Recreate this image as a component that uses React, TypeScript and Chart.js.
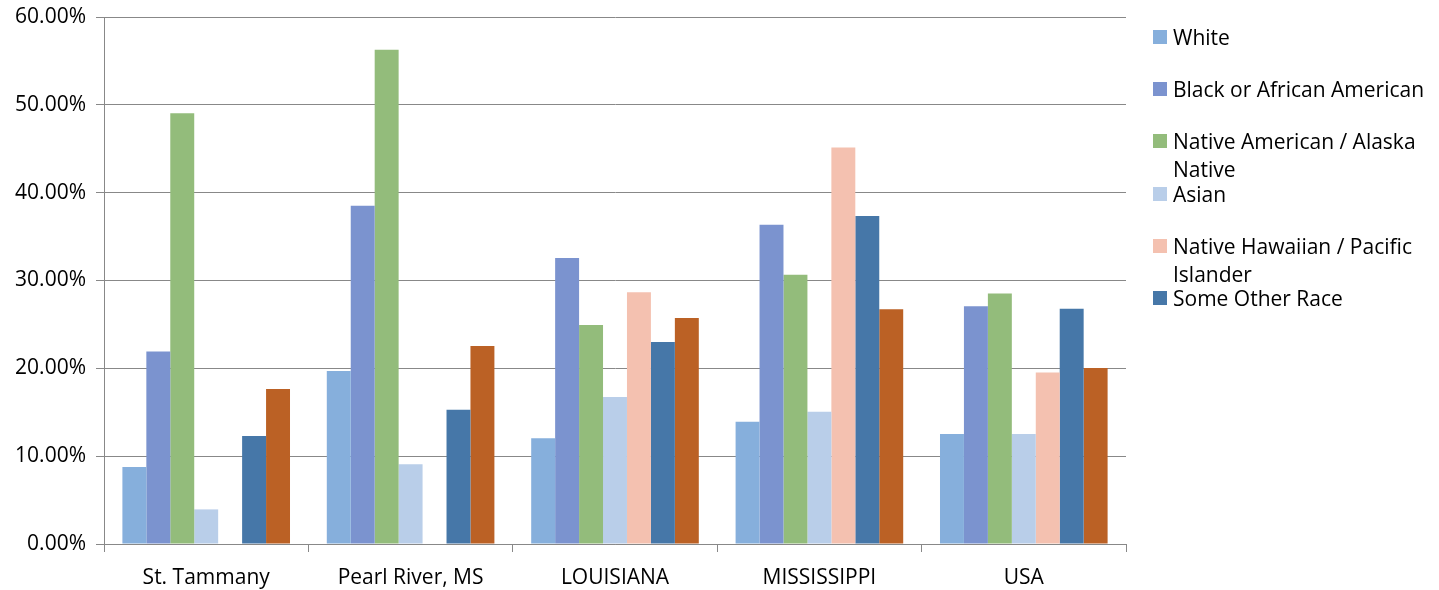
import React, { useEffect, useRef } from "react";
import { Chart, registerables } from "chart.js";

Chart.register(...registerables);

const categories = ["St. Tammany", "Pearl River, MS", "LOUISIANA", "MISSISSIPPI", "USA"];

const seriesNames = [
  "White",
  "Black or African American",
  "Native American / Alaska Native",
  "Asian",
  "Native Hawaiian / Pacific Islander",
  "Some Other Race",
  "Two or More Races",
];

const white = [8.78, 19.7, 12.03, 13.92, 12.51];
const black = [21.93, 38.5, 32.55, 36.36, 27.07];
const nativeAmerican = [49.04, 56.27, 24.93, 30.66, 28.52];
const asian = [3.94, 9.08, 16.75, 15.07, 12.51];
const nativeHawaiian = [0, 0, 28.65, 45.14, 19.53];
const someOther = [12.29, 15.29, 23.0, 37.35, 26.77];
const twoOrMore = [17.64, 22.53, 25.74, 26.72, 20.04];

const seriesValues = [white, black, nativeAmerican, asian, nativeHawaiian, someOther, twoOrMore];
const seriesColors = ["#86AFDC", "#7B93CF", "#93BC7B", "#B9CEE9", "#F4C1B0", "#4677A8", "#BB6125"];
const legendCount = 6;

const yTicks = [0, 10, 20, 30, 40, 50, 60];

const FONT = "'Open Sans', sans-serif";

export default function App() {
  const canvasRef = useRef<HTMLCanvasElement | null>(null);

  useEffect(() => {
    if (!canvasRef.current) return;
    const chart = new Chart(canvasRef.current, {
      type: "bar",
      data: {
        labels: categories,
        datasets: seriesNames.map((name, i) => ({
          label: name,
          data: seriesValues[i],
          backgroundColor: seriesColors[i],
          borderWidth: 0,
          barPercentage: 1,
          categoryPercentage: 0.82,
        })),
      },
      options: {
        animation: false,
        responsive: false,
        maintainAspectRatio: false,
        layout: { padding: { top: 17, right: 313, left: 0, bottom: 0 } },
        plugins: {
          legend: { display: false },
          tooltip: { enabled: false },
        },
        scales: {
          x: {
            offset: true,
            grid: {
              offset: true,
              drawOnChartArea: false,
              drawTicks: true,
              tickLength: 8,
              color: "#888888",
            },
            border: { display: true, color: "#888888", width: 1 },
            ticks: {
              color: "#000000",
              font: { family: FONT, size: 21 },
              padding: 13,
              maxRotation: 0,
            },
            afterFit: (scale: any) => {
              scale.height = 46;
              scale.paddingLeft = 0;
              scale.paddingRight = 0;
            },
          },
          y: {
            min: 0,
            max: 60,
            afterBuildTicks: (scale: any) => {
              scale.ticks = yTicks.map((v) => ({ value: v }));
            },
            grid: {
              color: "#888888",
              tickLength: 8,
              lineWidth: 1,
            },
            border: { display: true, color: "#888888", width: 1 },
            ticks: {
              color: "#000000",
              font: { family: FONT, size: 21 },
              padding: 10,
              callback: (v: any) => Number(v).toFixed(2) + "%",
            },
            afterFit: (scale: any) => {
              scale.width = 104;
              scale.paddingTop = 0;
              scale.paddingBottom = 0;
            },
          },
        },
      },
    });
    return () => chart.destroy();
  }, []);

  return (
    <div style={{ position: "fixed", left: 0, top: 0, width: 1439, height: 590, background: "#ffffff" }}>
      <canvas ref={canvasRef} width={1439} height={590} style={{ position: "absolute", left: 0, top: 0 }} />
      {seriesNames.slice(0, legendCount).map((name, i) => (
        <div
          key={name}
          style={{
            position: "absolute",
            left: 1153,
            top: 37 + i * 52.2 - 14,
            width: 285,
            fontFamily: FONT,
            fontSize: 21,
            lineHeight: "28px",
            color: "#000",
          }}
        >
          <div
            style={{
              position: "absolute",
              left: 0,
              top: 7,
              width: 14,
              height: 14,
              background: seriesColors[i],
            }}
          />
          <div style={{ marginLeft: 20, width: 258, whiteSpace: "normal" }}>{name}</div>
        </div>
      ))}
    </div>
  );
}
